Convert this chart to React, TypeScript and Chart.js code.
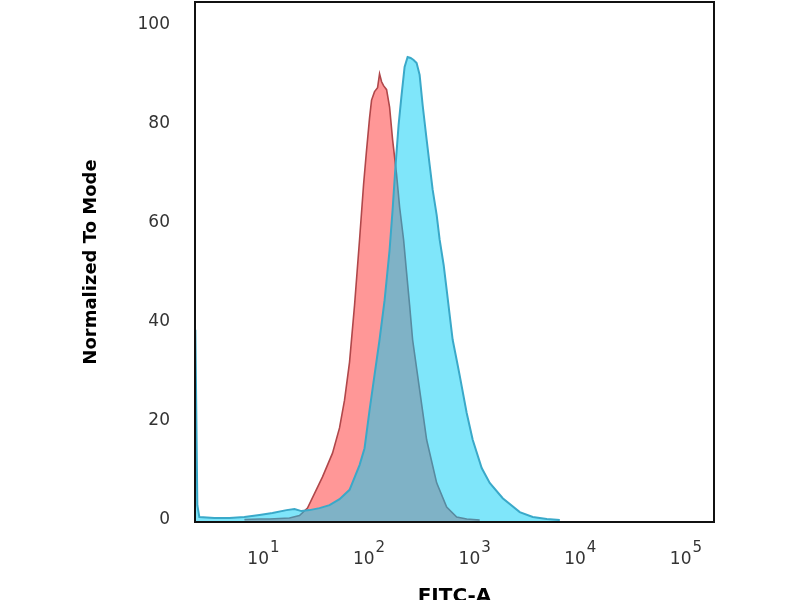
import { useEffect, useRef } from 'react';
import { Chart, registerables, type Plugin } from 'chart.js';

Chart.register(...registerables);

const FONT = "'DejaVu Sans', Verdana, sans-serif";

// decade ticks of the FITC-A axis
const decadeTicks = [10, 100, 1000, 10000, 100000];
const decadeExponents = ['1', '2', '3', '4', '5'];
const yTicks = [0, 20, 40, 60, 80, 100];

// red histogram (control)
const redX = [
  6.604, 9.165, 11.4, 17.64, 21.94, 26.13, 36.25, 45.08, 52.53, 58.59, 65.35, 72.89, 81.28,
  88.69, 94.7, 101.1, 105.6, 112.7, 120.4, 125.7, 131.4, 137.2, 146.5, 156.4, 167.0, 182.3,
  194.6, 212.3, 226.7, 242.0, 258.4, 301.1, 350.8, 436.4, 542.7, 675.2, 840.0, 1115,
];
const redY = [
  0.1, 0.2, 0.2, 0.4, 0.9, 2.4, 8.7, 13.5, 18.6, 24.2, 31.9, 43.4, 56.6,
  67.7, 74.7, 81.2, 84.8, 86.5, 87.3, 90.1, 88.5, 87.7, 86.9, 83.4, 76.8, 69.7,
  63.2, 56.6, 49.9, 43.4, 36.4, 26.3, 16.2, 7.5, 2.6, 0.6, 0.2, 0,
];

// cyan histogram (stained)
const cyanX = [
  2.268, 2.368, 2.474, 3.431, 4.762, 6.604, 9.165, 12.17, 16.52, 19.67, 22.92, 27.29, 33.95,
  42.23, 52.53, 65.35, 81.28, 90.64, 101.1, 112.7, 125.7, 140.3, 156.4, 167.0, 178.3, 190.4,
  203.3, 217.0, 231.7, 247.4, 264.1, 282.0, 301.1, 321.5, 350.8, 374.6, 399.9, 436.4, 465.9,
  508.4, 542.7, 579.4, 618.7, 675.2, 720.8, 840.0, 957.4, 1165, 1388, 1842, 2670, 3546, 4814, 6393,
];
const cyanY = [
  38.4, 3.0, 0.6, 0.4, 0.4, 0.6, 1.0, 1.4, 2.0, 2.2, 1.8, 2.0, 2.4,
  3.0, 4.2, 6.1, 11.1, 14.5, 22.2, 29.3, 36.4, 44.4, 54.5, 62.6, 71.7, 79.8,
  85.9, 91.5, 93.5, 93.3, 92.9, 92.3, 89.9, 83.8, 76.8, 71.7, 66.7, 61.6, 56.6,
  51.5, 46.5, 41.4, 36.4, 32.3, 29.2, 21.6, 16.2, 10.5, 7.5, 4.4, 1.6, 0.6, 0.2, 0,
];

const framePlugin: Plugin<'line'> = {
  id: 'frame',
  afterDraw(chart) {
    const { ctx, chartArea: a } = chart;
    ctx.save();
    ctx.strokeStyle = '#111';
    ctx.lineWidth = 2;
    ctx.strokeRect(a.left, a.top, a.right - a.left, a.bottom - a.top);
    ctx.restore();
  },
};

// "10" with a raised exponent, centred on each decade
const decadePlugin: Plugin<'line'> = {
  id: 'decades',
  afterDraw(chart) {
    const { ctx, chartArea } = chart;
    const xs = chart.scales.x;
    const y = chartArea.bottom + 38;
    ctx.save();
    ctx.fillStyle = '#333';
    ctx.textBaseline = 'middle';
    ctx.textAlign = 'left';
    decadeTicks.forEach((v, i) => {
      const px = xs.getPixelForValue(v);
      ctx.font = `17px ${FONT}`;
      const w1 = ctx.measureText('10').width;
      ctx.font = `15px ${FONT}`;
      const w2 = ctx.measureText(decadeExponents[i]).width;
      const x0 = px - (w1 + w2 + 1) / 2;
      ctx.font = `17px ${FONT}`;
      ctx.fillText('10', x0, y);
      ctx.font = `15px ${FONT}`;
      ctx.fillText(decadeExponents[i], x0 + w1 + 1, y - 12);
    });
    ctx.restore();
  },
};

export default function App() {
  const canvasRef = useRef<HTMLCanvasElement>(null);

  useEffect(() => {
    if (!canvasRef.current) return;
    const chart = new Chart(canvasRef.current, {
      type: 'line',
      data: {
        datasets: [
          {
            label: 'stained',
            data: cyanX.map((x, i) => ({ x, y: cyanY[i] })),
            borderColor: '#3aa9c9',
            backgroundColor: 'rgba(0, 205, 245, 0.5)',
            borderWidth: 2,
            fill: 'start',
            pointRadius: 0,
            tension: 0,
            order: 1,
          },
          {
            label: 'control',
            data: redX.map((x, i) => ({ x, y: redY[i] })),
            borderColor: '#b0474a',
            backgroundColor: '#ff9797',
            borderWidth: 1.6,
            fill: 'start',
            pointRadius: 0,
            tension: 0,
            order: 2,
          },
        ],
      },
      options: {
        animation: false,
        responsive: false,
        events: [],
        layout: { padding: { left: 0, top: 2, right: 86, bottom: 0 } },
        plugins: { legend: { display: false }, tooltip: { enabled: false } },
        scales: {
          x: {
            type: 'logarithmic',
            min: 2.25,
            max: 184300,
            grid: { display: false, drawTicks: false },
            border: { display: false },
            ticks: { display: false },
            title: {
              display: true,
              text: 'FITC-A',
              color: '#000',
              font: { family: FONT, size: 20, weight: 'bold' },
              padding: { top: 0, bottom: 11 },
            },
            afterFit: (s) => {
              s.height = 98;
            },
          },
          y: {
            type: 'linear',
            min: -0.4,
            max: 104.6,
            afterBuildTicks: (s) => {
              s.ticks = yTicks.map((value) => ({ value }));
            },
            ticks: { color: '#333', padding: 25, font: { family: FONT, size: 17 } },
            grid: { display: false, drawTicks: false },
            border: { display: false },
            title: {
              display: true,
              text: 'Normalized To Mode',
              color: '#000',
              font: { family: FONT, size: 18, weight: 'bold' },
              padding: { top: 81, bottom: 0 },
            },
            afterFit: (s) => {
              s.width = 195;
              s.paddingTop = 0;
              s.paddingBottom = 0;
            },
          },
        },
      },
      plugins: [framePlugin, decadePlugin],
    });
    return () => chart.destroy();
  }, []);

  return (
    <div style={{ position: 'fixed', left: 0, top: 0, width: 800, height: 620, background: '#fff' }}>
      <canvas ref={canvasRef} width={800} height={620} style={{ display: 'block' }} />
    </div>
  );
}
